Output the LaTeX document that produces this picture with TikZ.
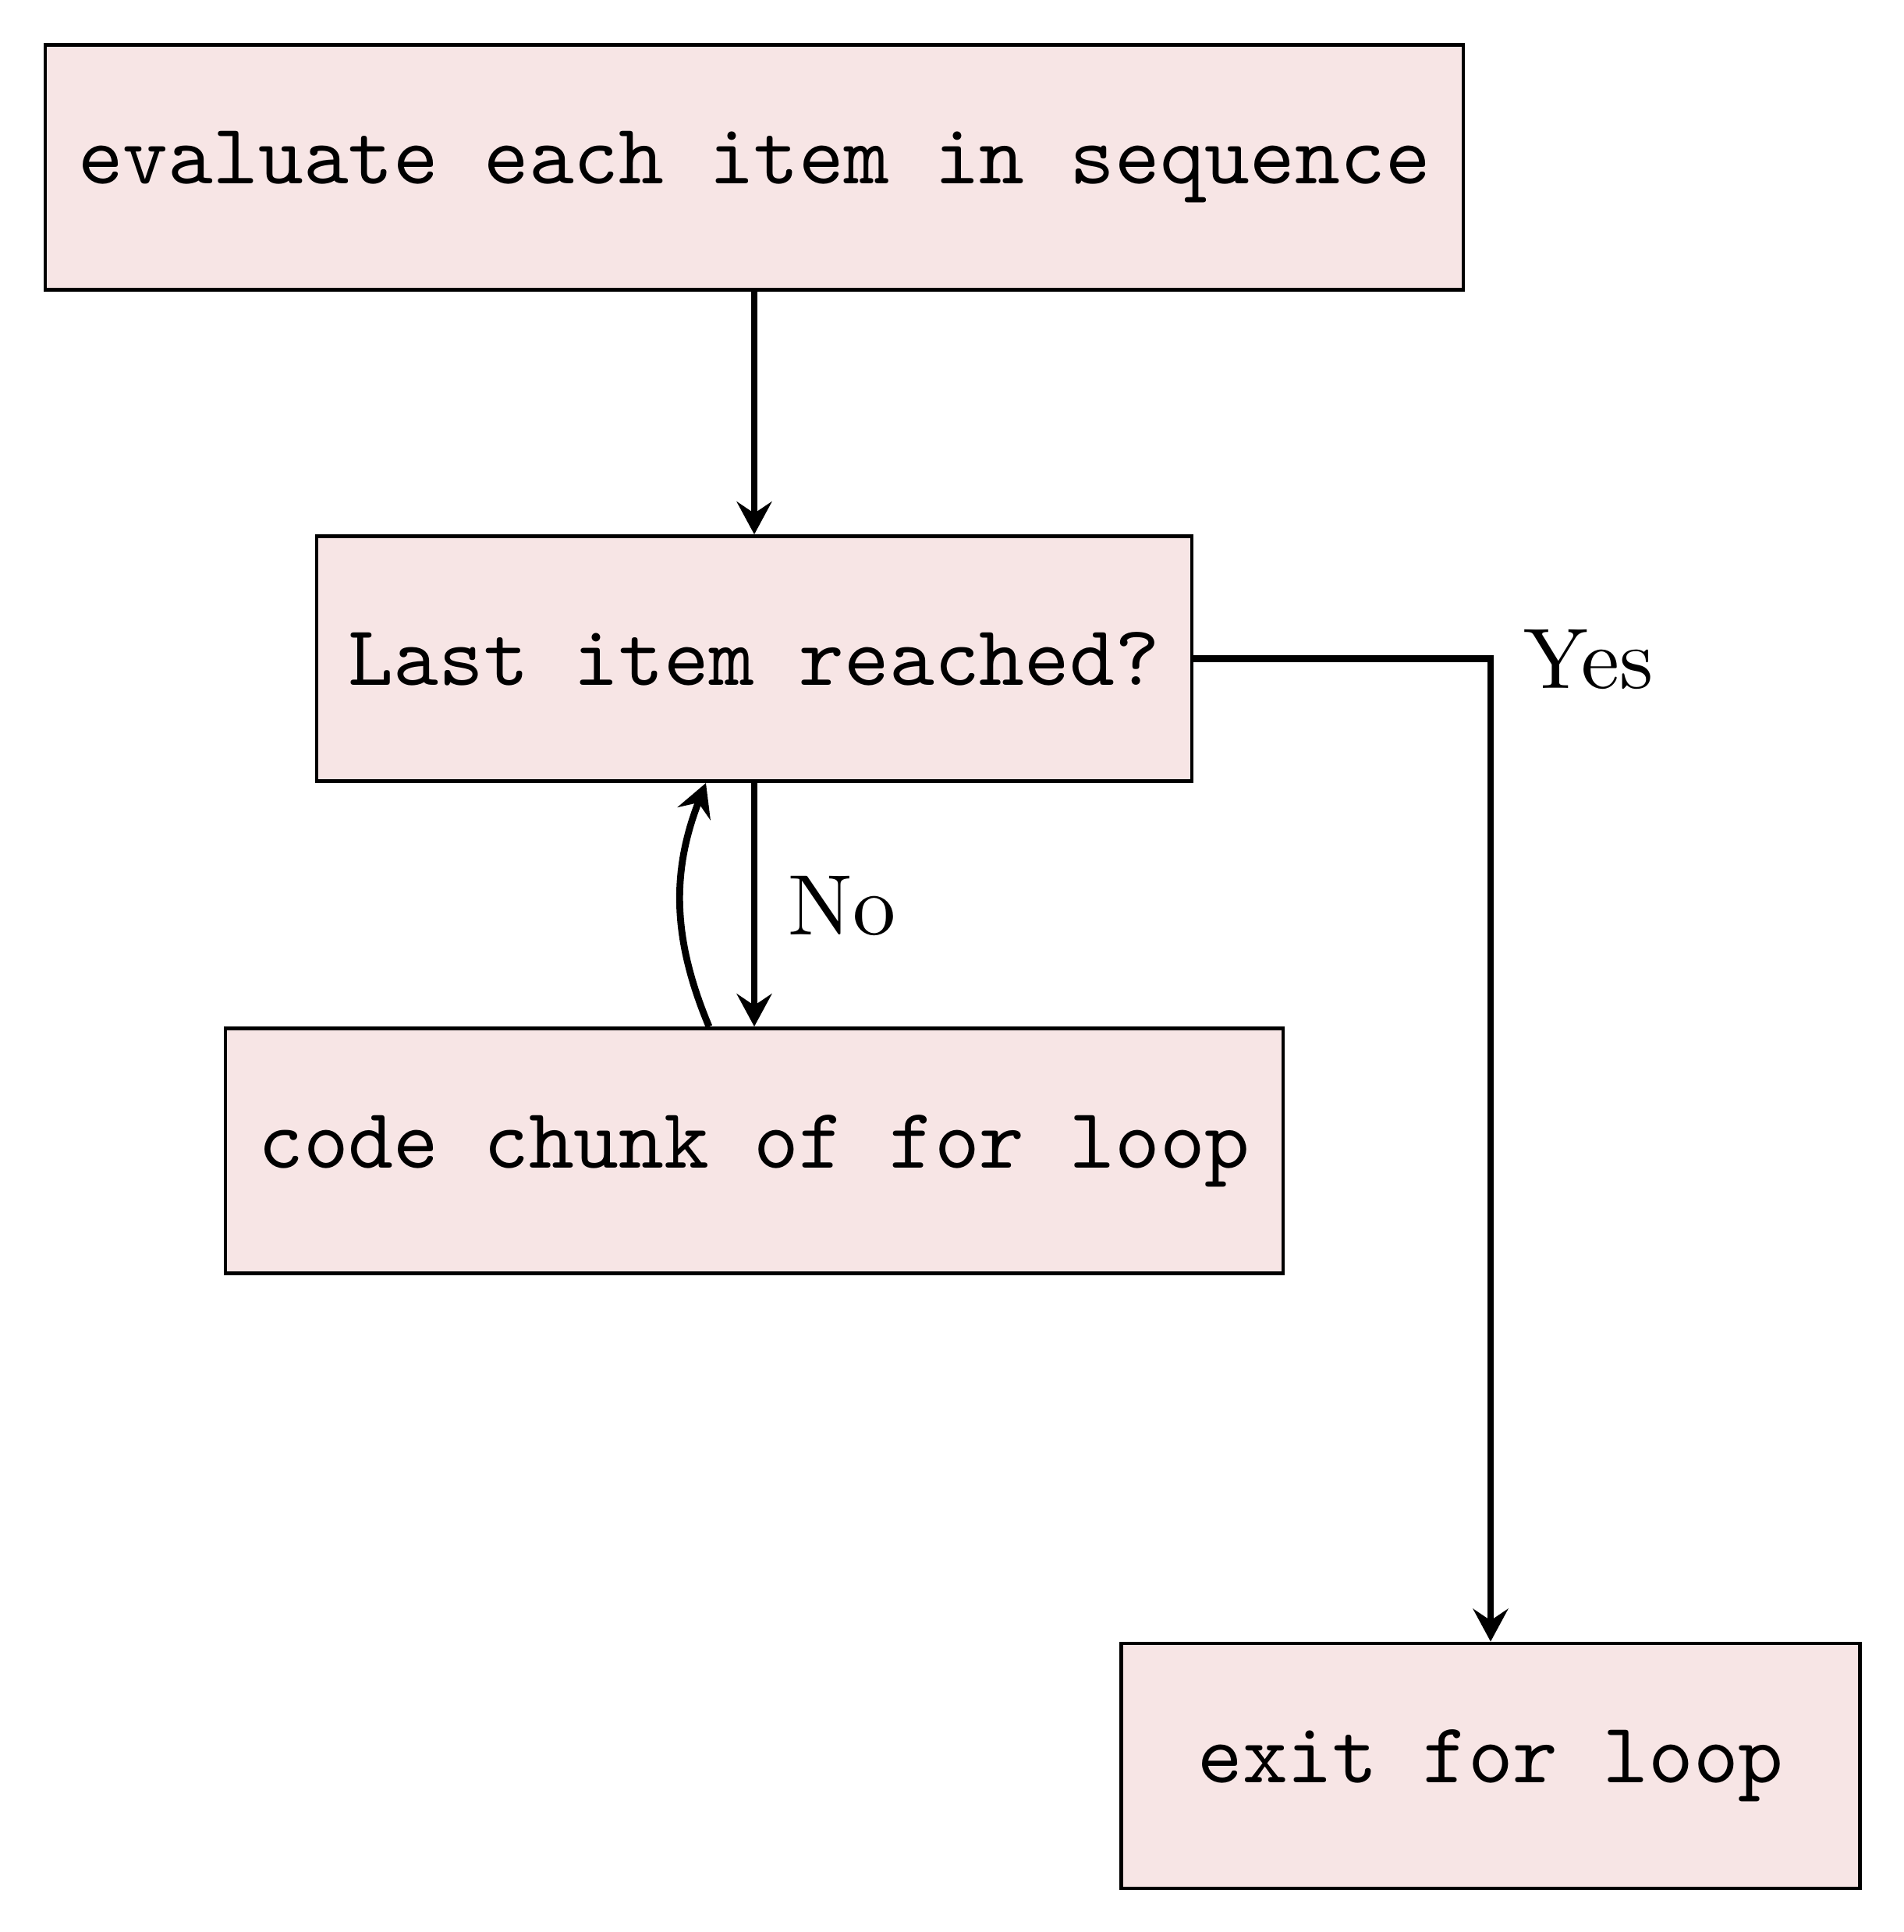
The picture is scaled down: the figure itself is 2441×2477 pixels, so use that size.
\documentclass[tikz,border=0pt]{standalone}
\usepackage{fontspec}
\setmainfont{lmroman10-regular}[Extension=.otf]
\setmonofont{lmmono10-regular}[Extension=.otf]
\usetikzlibrary{arrows.meta,calc}
\definecolor{boxfill}{RGB}{247,229,229}
\begin{document}
\begin{tikzpicture}[x=0.01cm,y=-0.01cm,
  box/.style={draw=black, line width=1.3pt, fill=boxfill, inner sep=0pt,
    minimum height=3.14cm, font=\fontsize{31.3}{38}\selectfont\ttfamily},
  lab/.style={font=\fontsize{31.3}{38}\selectfont, inner sep=0pt, anchor=base west},
  conn/.style={line width=2.5pt, -{Stealth[length=0.42cm,width=0.45cm,inset=0.15cm]}}]
\useasboundingbox (0,0) rectangle (2441,2477);
\node[box, minimum width=18.17cm] (b1) at (967,214.5) {evaluate each item in sequence};
\node[box, minimum width=11.21cm] (b2) at (967,844.5) {Last item reached?};
\node[box, minimum width=13.55cm] (b3) at (967,1475.5) {code chunk of for loop};
\node[box, minimum width=9.46cm] (b4) at (1911,2264) {exit for loop};
\draw[conn] (b1.south) -- (b2.north);
\draw[conn] (b2.south) -- (b3.north);
\coordinate (cs) at ($(b3.north)+(-58,0)$);
\coordinate (ce) at ($(b2.south)+(-62,0)$);
\draw[conn] (cs) to[bend left=22] (ce);
\draw[conn] (b2.east) -| (b4.north);
\node[lab] (yes) at (1953,882) {Yes};
\node[lab] (no) at (1010,1198) {No};
\end{tikzpicture}
\end{document}
